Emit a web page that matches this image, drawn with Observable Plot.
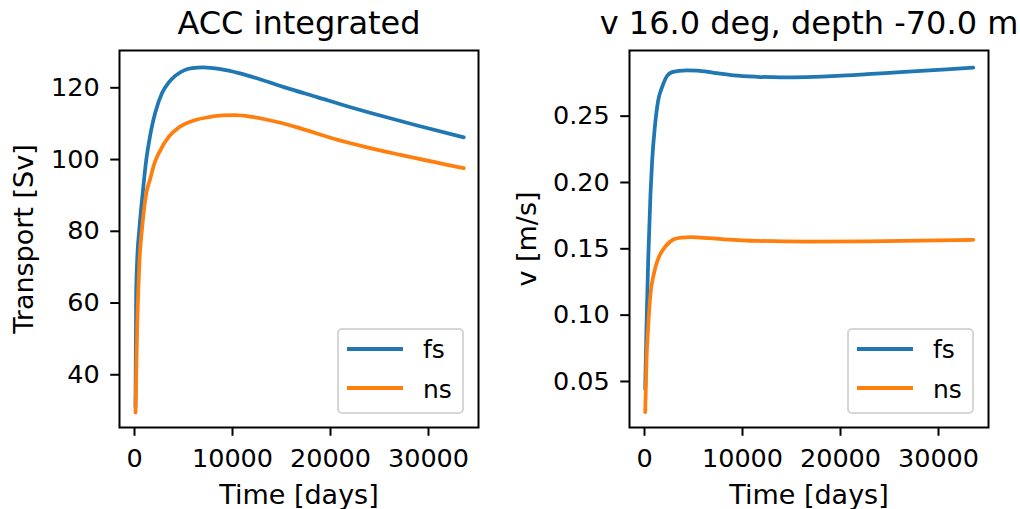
<!DOCTYPE html>
<html>
<head>
<meta charset="utf-8">
<script src="https://cdn.jsdelivr.net/npm/d3@7"></script>
<script src="https://cdn.jsdelivr.net/npm/@observablehq/plot@0.6"></script>
<style>
  html, body { margin: 0; padding: 0; background: white; }
  #root { position: relative; width: 1020px; height: 509px; font-family: "DejaVu Sans", sans-serif; overflow: hidden; }
  .panel { position: absolute; top: 0; width: 510px; height: 509px; }
  .legend { position: absolute; left: 337px; top: 328px; width: 123px; height: 82px; border: 2px solid #d6d6d6; border-radius: 5px; background: rgba(255,255,255,0.8); }
  .sw { position: absolute; left: 8px; width: 56px; height: 3.75px; }
  .lt { position: absolute; left: 84px; font-size: 25px; line-height: 25px; color: black; }
</style>
</head>
<body>
<div id="root"></div>
<script>
// ---- data ----
const xTicks = [0, 10000, 20000, 30000];
const seriesNames = ["fs", "ns"];
const seriesColors = ["#1f77b4", "#ff7f0e"];

// Panel 1: ACC integrated transport [Sv]
const accFsTime = [100, 170, 272, 510, 850, 1190, 1463, 1800, 2143, 2823, 3500, 4184, 5000, 5884, 7000, 8776, 10646, 11837, 15238, 18640, 22041, 25442, 28844, 33600];
const accFsVal  = [31, 62.5, 71.8, 81.1, 91.0, 99.7, 104.6, 109.5, 113.3, 118.6, 121.5, 123.4, 124.8, 125.5, 125.7, 125.2, 124.1, 123.2, 120.2, 117.4, 114.6, 112.0, 109.5, 106.2];
const accNsTime = [100, 204, 272, 374, 510, 782, 1190, 1600, 2041, 2483, 3503, 4354, 5204, 6300, 7585, 9000, 10306, 12000, 13537, 15000, 16939, 20340, 23741, 27143, 33600];
const accNsVal  = [29.5, 43.9, 53.2, 62.5, 71.8, 81.1, 90.4, 94.6, 99.0, 101.8, 106.4, 108.6, 110.0, 111.1, 111.8, 112.3, 112.4, 111.9, 111.1, 110.2, 108.7, 105.8, 103.4, 101.3, 97.6];
const accYTicks = [40, 60, 80, 100, 120];

// Panel 2: v at 16.0 deg, depth -70.0 m [m/s]
const vFsTime = [70, 204, 374, 612, 782, 1054, 1395, 1803, 2313, 2823, 3500, 4300, 5374, 7075, 9116, 11497, 14000, 16500, 19660, 22721, 26122, 29524, 33550];
const vFsVal  = [0.0444, 0.091, 0.141, 0.1915, 0.2166, 0.2417, 0.2618, 0.2720, 0.2805, 0.2832, 0.2841, 0.2845, 0.2844, 0.2827, 0.2807, 0.2797, 0.2793, 0.2795, 0.2803, 0.2816, 0.2832, 0.2847, 0.2865];
const vNsTime = [70, 204, 374, 612, 952, 1462, 2143, 2993, 3800, 4694, 5714, 8096, 11497, 16600, 22721, 33550];
const vNsVal  = [0.0268, 0.0658, 0.091, 0.116, 0.1312, 0.1437, 0.1518, 0.1572, 0.1585, 0.1588, 0.1584, 0.1572, 0.1560, 0.1555, 0.1557, 0.1568];
const vYTicks = [0.05, 0.10, 0.15, 0.20, 0.25];

const toRows = (times, vals, name) => times.map((t, i) => ({t, v: vals[i], s: name}));

function panel({rows, yDomain, yTicks, yFmt, title, ylabel, ylabelDx}) {
  return Plot.plot({
    width: 510, height: 509,
    marginLeft: 119, marginRight: 32, marginTop: 50, marginBottom: 82,
    style: {fontFamily: "DejaVu Sans", fontSize: "25.5px", background: "transparent", overflow: "visible", color: "black"},
    x: {domain: [-1531, 35102]},
    y: {domain: yDomain},
    color: {domain: seriesNames, range: seriesColors},
    marks: [
      Plot.line(rows, {x: "t", y: "v", z: "s", stroke: "s", strokeWidth: 3.75, curve: "monotone-x"}),
      Plot.frame({stroke: "black", strokeWidth: 2}),
      Plot.axisX({ticks: xTicks, tickFormat: d3.format("d"), tickSize: 8.75, tickPadding: 13, strokeWidth: 2, label: null}),
      Plot.axisY({ticks: yTicks, tickFormat: yFmt, tickSize: 8.75, tickPadding: 11, strokeWidth: 2, label: null}),
      Plot.text([title], {frameAnchor: "top", textAnchor: "middle", lineAnchor: "middle", dy: -26.9, fontSize: 32}),
      Plot.text(["Time [days]"], {frameAnchor: "bottom", textAnchor: "middle", lineAnchor: "middle", dy: 67.4, fontSize: 27}),
      Plot.text([ylabel], {frameAnchor: "left", textAnchor: "middle", lineAnchor: "middle", rotate: -90, dx: ylabelDx, fontSize: 27})
    ]
  });
}

function legend() {
  const lg = document.createElement("div");
  lg.className = "legend";
  seriesNames.forEach((name, i) => {
    const sw = document.createElement("div");
    sw.className = "sw";
    sw.style.background = seriesColors[i];
    sw.style.top = (17 + i * 39) + "px";
    lg.appendChild(sw);
    const lt = document.createElement("div");
    lt.className = "lt";
    lt.textContent = name;
    lt.style.top = (6.85 + i * 40) + "px";
    lg.appendChild(lt);
  });
  return lg;
}

const root = document.getElementById("root");
const specs = [
  {rows: [...toRows(accFsTime, accFsVal, "fs"), ...toRows(accNsTime, accNsVal, "ns")],
   yDomain: [25.3, 130.4], yTicks: accYTicks, yFmt: d3.format("d"),
   title: "ACC integrated", ylabel: "Transport [Sv]", ylabelDx: -95},
  {rows: [...toRows(vFsTime, vFsVal, "fs"), ...toRows(vNsTime, vNsVal, "ns")],
   yDomain: [0.0153, 0.2995], yTicks: vYTicks, yFmt: d3.format(".2f"),
   title: "v 16.0 deg, depth -70.0 m", ylabel: "v [m/s]", ylabelDx: -102.6}
];
specs.forEach((s, i) => {
  const p = document.createElement("div");
  p.className = "panel";
  p.style.left = (i * 510) + "px";
  p.appendChild(panel(s));
  p.appendChild(legend());
  root.appendChild(p);
});
</script>
</body>
</html>
